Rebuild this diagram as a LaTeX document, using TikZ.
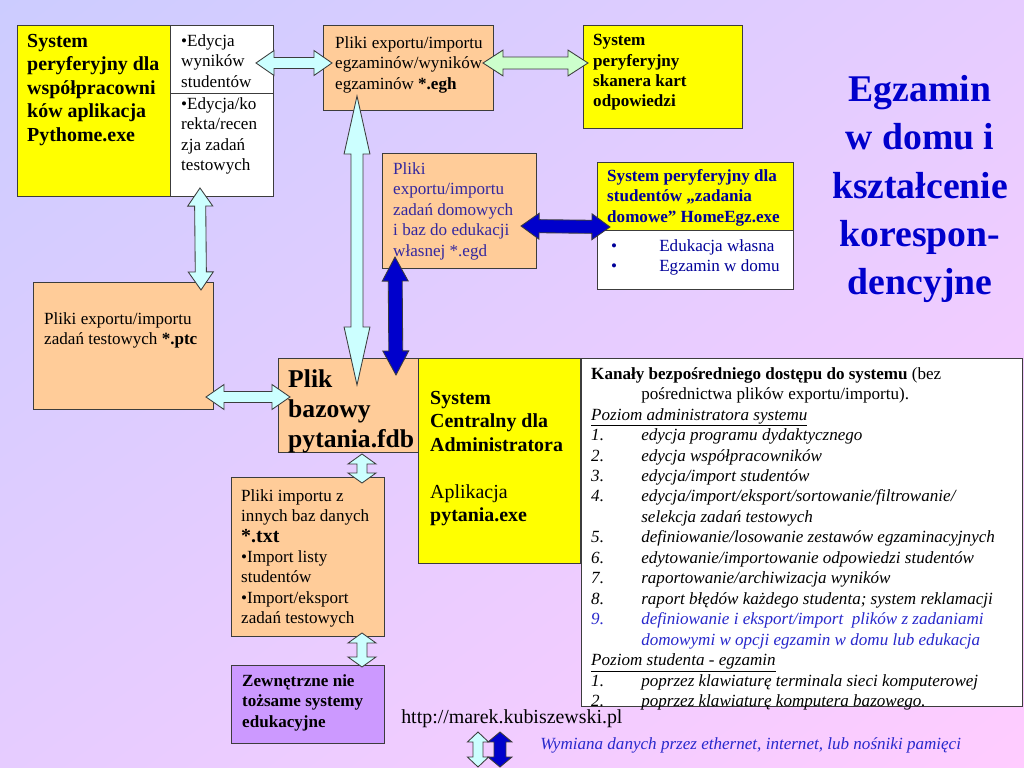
\documentclass[tikz,border=0pt]{standalone}
\usepackage{fontspec}
\setmainfont{Liberation Serif}
\usetikzlibrary{positioning, calc, shadings}
\definecolor{bglav}{RGB}{204,204,255}
\definecolor{bgmid}{RGB}{230,204,255}
\definecolor{bgpink}{RGB}{255,204,255}
\definecolor{boxyellow}{RGB}{255,255,0}
\definecolor{boxorange}{RGB}{255,204,153}
\definecolor{boxpurple}{RGB}{204,153,255}
\definecolor{arrcyan}{RGB}{204,255,255}
\definecolor{arrgreen}{RGB}{204,255,204}
\definecolor{arrblue}{RGB}{0,0,204}
\definecolor{navy}{RGB}{0,0,153}
\definecolor{egdblue}{RGB}{51,40,160}
\definecolor{txtblue}{RGB}{40,40,204}
\definecolor{edge}{RGB}{60,60,60}

\newcommand{\kitem}[2]{\makebox[35.2pt][l]{\textit{#1}}\textit{#2}}
\newcommand{\kcont}[1]{\hspace*{35.2pt}#1}
\newcommand{\hbul}{\makebox[33.8pt][l]{\textbullet}}

\begin{document}
\begin{tikzpicture}[
    x=0.703125pt, y=-0.703125pt,
    box/.style 2 args={
        draw=edge,
        line width=0.7pt,
        anchor=north west,
        inner sep=0pt,
        minimum width=#1*0.703125pt,
        minimum height=#2*0.703125pt
    },
    txt/.style={
        anchor=north west,
        align=left,
        inner sep=0pt,
        font=\fontsize{12}{14.4}\selectfont
    },
    bigtxt/.style={
        txt,
        font=\fontsize{14}{16.5}\selectfont\bfseries
    },
    title/.style={
        align=center,
        inner sep=0pt,
        text=arrblue,
        font=\fontsize{26.5}{33.8}\selectfont\bfseries
    },
    blockarrow/.style n args={3}{
        draw=edge,
        line width=0.6pt,
        to path={
            -- ($(\tikztostart)!#3!(\tikztotarget)!#2!90:(\tikztotarget)$)
            -- ($(\tikztostart)!#3!(\tikztotarget)!#1!90:(\tikztotarget)$)
            -- ($(\tikztotarget)!#3!(\tikztostart)!#1!-90:(\tikztostart)$)
            -- ($(\tikztotarget)!#3!(\tikztostart)!#2!-90:(\tikztostart)$)
            -- (\tikztotarget)
            -- ($(\tikztotarget)!#3!(\tikztostart)!#2!90:(\tikztostart)$)
            -- ($(\tikztotarget)!#3!(\tikztostart)!#1!90:(\tikztostart)$)
            -- ($(\tikztostart)!#3!(\tikztotarget)!#1!-90:(\tikztotarget)$)
            -- ($(\tikztostart)!#3!(\tikztotarget)!#2!-90:(\tikztotarget)$)
            -- cycle}
    },
    cyanarr/.style={blockarrow={3.9pt}{8.8pt}{12.7pt}, fill=arrcyan},
    longarr/.style={blockarrow={4.2pt}{9.1pt}{40.8pt}, fill=arrcyan},
    shortarr/.style={blockarrow={3.5pt}{9.8pt}{7pt}, fill=arrcyan},
    greenarr/.style={blockarrow={4.2pt}{9.1pt}{14.1pt}, fill=arrgreen},
    bluearr/.style={blockarrow={4.9pt}{9.1pt}{16.9pt}, fill=arrblue},
    bluehor/.style={blockarrow={4.6pt}{9.1pt}{12.7pt}, fill=arrblue}
]

\useasboundingbox (0,0) rectangle (1024,768);
\shade[upper left=bglav, upper right=bgmid, lower left=bgmid, lower right=bgpink]
    (0,0) rectangle (1024,768);

% Boxes
\node[box={153}{171}, fill=boxyellow] (py) at (17,25) {};
\node[box={103}{68}, fill=white] (pyw1) at (170,25) {};
\node[box={103}{103}, fill=white] (pyw2) at (170,93) {};
\node[box={170}{85}, fill=boxorange] (egh) at (323,25) {};
\node[box={159}{103}, fill=boxyellow] (skan) at (583,25) {};
\node[box={154}{115}, fill=boxorange] (egd) at (382,153) {};
\node[box={196}{68}, fill=boxyellow] (home) at (597,162) {};
\node[box={196}{59}, fill=white] (homew) at (597,230) {};
\node[box={180}{127}, fill=boxorange] (ptc) at (33,282) {};
\node[box={140}{94}, fill=boxorange] (plik) at (278,358) {};
\node[box={162}{205}, fill=boxyellow] (central) at (418,358) {};
\node[box={441}{348}, fill=white] (kan) at (581,358) {};
\node[box={153}{159}, fill=boxorange] (txt) at (231,477) {};
\node[box={153}{78}, fill=boxpurple] (ext) at (231,665) {};

% Texts
\node[bigtxt, below right=6.3pt and 7pt of py.north west] (pytxt)
    {System\\peryferyjny dla\\współpracowni\\ków aplikacja\\Pythome.exe};
\node[txt, below right=6.3pt and 7.7pt of pyw1.north west] (pyw1txt)
    {\textbullet Edycja\\wyników\\studentów};
\node[txt, below right=2.8pt and 7.7pt of pyw2.north west] (pyw2txt)
    {\textbullet Edycja/ko\\rekta/recen\\zja zadań\\testowych};
\node[txt, below right=7.7pt and 8.4pt of egh.north west] (eghtxt)
    {Pliki exportu/importu\\egzaminów/wyników\\egzaminów \textbf{*.egh}};
\node[txt, font=\fontsize{12}{14.4}\selectfont\bfseries,
      below right=6.3pt and 7pt of skan.north west] (skantxt)
    {System\\peryferyjny\\skanera kart\\odpowiedzi};
\node[txt, text=egdblue, below right=6.3pt and 7.7pt of egd.north west] (egdtxt)
    {Pliki\\exportu/importu\\zadań domowych\\i baz do edukacji\\własnej *.egd};
\node[txt, text=navy, font=\fontsize{12}{14.4}\selectfont\bfseries,
      below right=4.9pt and 7pt of home.north west] (hometxt)
    {System peryferyjny dla\\studentów „zadania\\domowe” HomeEgz.exe};
\node[txt, text=navy, below right=6.3pt and 9.8pt of homew.north west] (homewtxt)
    {\hbul Edukacja własna\\\hbul Egzamin w domu};
\node[title] (title) at (920,189)
    {Egzamin\\w domu i\\kształcenie\\korespon-\\dencyjne};
\node[txt, below right=21.1pt and 7.7pt of ptc.north west] (ptctxt)
    {Pliki exportu/importu\\zadań testowych \textbf{*.ptc}};
\node[txt, font=\fontsize{18}{21}\selectfont\bfseries,
      below right=8.4pt and 7pt of plik.north west] (pliktxt)
    {Plik\\bazowy\\pytania.fdb};
\node[txt, font=\fontsize{14}{16.5}\selectfont,
      below right=23.2pt and 8.4pt of central.north west] (centraltxt)
    {\textbf{System}\\\textbf{Centralny dla}\\\textbf{Administratora}\\[16.5pt]
     Aplikacja\\\textbf{pytania.exe}};
\node[txt, below right=6.3pt and 7pt of kan.north west] (kantxt) {%
    \textbf{Kanały bezpośredniego dostępu do systemu} (bez\\
    \kcont{pośrednictwa plików exportu/importu).}\\
    \underline{\textit{Poziom administratora systemu}}\\
    \kitem{1.}{edycja programu dydaktycznego}\\
    \kitem{2.}{edycja współpracowników}\\
    \kitem{3.}{edycja/import studentów}\\
    \kitem{4.}{edycja/import/eksport/sortowanie/filtrowanie/}\\
    \kcont{\textit{selekcja zadań testowych}}\\
    \kitem{5.}{definiowanie/losowanie zestawów egzaminacyjnych}\\
    \kitem{6.}{edytowanie/importowanie odpowiedzi studentów}\\
    \kitem{7.}{raportowanie/archiwizacja wyników}\\
    \kitem{8.}{raport błędów każdego studenta; system reklamacji}\\
    \textcolor{txtblue}{\kitem{9.}{definiowanie i eksport/import\ \ plików z zadaniami}}\\
    \textcolor{txtblue}{\kcont{\textit{domowymi w opcji egzamin w domu lub edukacja}}}\\
    \underline{\textit{Poziom studenta - egzamin}}\\
    \kitem{1.}{poprzez klawiaturę terminala sieci komputerowej}\\
    \kitem{2.}{poprzez klawiaturę komputera bazowego.}};
\node[txt, below right=8.4pt and 7pt of txt.north west] (txttxt)
    {Pliki importu z\\innych baz danych\\{\fontsize{14}{16.5}\selectfont\bfseries *.txt}\\
     \textbullet Import listy\\studentów\\\textbullet Import/eksport\\zadań testowych};
\node[txt, font=\fontsize{12}{14.4}\selectfont\bfseries,
      below right=6.3pt and 7.7pt of ext.north west] (exttxt)
    {Zewnętrzne nie\\tożsame systemy\\edukacyjne};
\node[txt, anchor=west, font=\fontsize{14}{16.8}\selectfont] (url) at (401,719)
    {http://marek.kubiszewski.pl};
\node[txt, anchor=west, text=txtblue, font=\fontsize{12}{14.4}\selectfont\itshape]
    (legend) at (540,745)
    {Wymiana danych przez ethernet, internet, lub nośniki pamięci};

% Arrow ends
\coordinate (a1) at ($(pyw1.north east)+(-18,38)$);
\coordinate (a2) at ($(egh.north west)+(9,38)$);
\coordinate (b1) at ($(egh.north east)+(-11,38)$);
\coordinate (b2) at ($(skan.north west)+(5,38)$);
\coordinate (c1) at ($(egh.south west)+(34,-15)$);
\coordinate (c2) at ($(plik.north west)+(79,27)$);
\coordinate (d1) at ($(pyw2.south west)+(30,-9)$);
\coordinate (d2) at ($(ptc.north east)+(-13,8)$);
\coordinate (e1) at ($(ptc.north east)+(-8,115)$);
\coordinate (e2) at ($(plik.north west)+(12,39)$);
\coordinate (f1) at ($(egd.south west)+(13,-12)$);
\coordinate (f2) at ($(plik.north east)+(-23,17)$);
\coordinate (g1) at ($(egd.north east)+(-16,73)$);
\coordinate (g2) at ($(home.south west)+(13,-4)$);
\coordinate (h1) at ($(plik.south west)+(84,1)$);
\coordinate (h2) at ($(txt.north west)+(131,6)$);
\coordinate (i1) at ($(txt.south west)+(131,-4)$);
\coordinate (i2) at ($(ext.north west)+(131,2)$);
\coordinate (k1) at (478,732);
\coordinate (k2) at (478,767);
\coordinate (m1) at (500,732);
\coordinate (m2) at (500,767);

% Arrows
\draw[cyanarr] (a1) to (a2);
\draw[greenarr] (b1) to (b2);
\draw[longarr] (c1) to (c2);
\draw[cyanarr] (d1) to (d2);
\draw[cyanarr] (e1) to (e2);
\draw[bluearr] (f1) to (f2);
\draw[bluehor] (g1) to (g2);
\draw[shortarr] (h1) to (h2);
\draw[shortarr] (i1) to (i2);
\draw[blockarrow={3.5pt}{7.4pt}{7pt}, fill=arrcyan] (k1) to (k2);
\draw[blockarrow={4.2pt}{8.4pt}{7pt}, fill=arrblue] (m1) to (m2);

\end{tikzpicture}
\end{document}
